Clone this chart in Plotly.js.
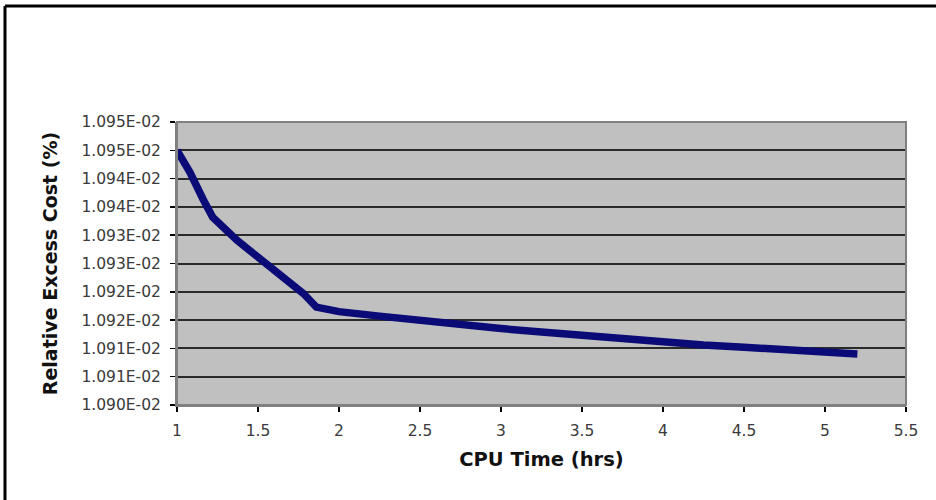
<!DOCTYPE html>
<html>
<head>
<meta charset="utf-8">
<script src="https://cdn.plot.ly/plotly-3.0.1.min.js"></script>
<style>html,body{margin:0;padding:0;background:#fff;}#chart{width:936px;height:500px;}</style>
</head>
<body>
<div id="chart"></div>
<script>
// CPU time (hrs)
var cpuTime = [1.00, 1.08, 1.16, 1.22, 1.37, 1.57, 1.78, 1.86,
               2.00, 2.25, 2.50, 2.75, 3.00, 3.25, 3.50, 3.75, 4.00, 4.25, 4.50, 4.75, 5.00, 5.20];
// Relative excess cost (%)
var excessCost = [1.09450e-2, 1.09411e-2, 1.09364e-2, 1.09332e-2, 1.09291e-2, 1.09244e-2,
                  1.09197e-2, 1.09173e-2, 1.09165e-2, 1.09157e-2, 1.09149e-2, 1.09142e-2,
                  1.09135e-2, 1.09129e-2, 1.09123e-2, 1.09117e-2, 1.09110e-2, 1.09106e-2,
                  1.09102e-2, 1.09098e-2, 1.09094e-2, 1.09090e-2];
// Y tick values and labels (as printed)
var yTickVals = [1.0900e-2, 1.0905e-2, 1.0910e-2, 1.0915e-2, 1.0920e-2, 1.0925e-2,
                 1.0930e-2, 1.0935e-2, 1.0940e-2, 1.0945e-2, 1.0950e-2];
var yTickText = ["1.090E-02", "1.091E-02", "1.091E-02", "1.092E-02", "1.092E-02", "1.093E-02",
                 "1.093E-02", "1.094E-02", "1.094E-02", "1.095E-02", "1.095E-02"];
var xTickVals = [1, 1.5, 2, 2.5, 3, 3.5, 4, 4.5, 5, 5.5];
var xTickText = ["1", "1.5", "2", "2.5", "3", "3.5", "4", "4.5", "5", "5.5"];

var trace = {
  x: cpuTime, y: excessCost, type: 'scatter', mode: 'lines',
  line: {color: '#0b0b78', width: 7.5},
  hoverinfo: 'skip'
};

var FONT = 'DejaVu Sans, Liberation Sans, Arial, sans-serif';
var L = 177, R = 30, T = 122, B = 95, W = 936, H = 500;
var pw = W - L - R, ph = H - T - B;

var layout = {
  width: W, height: H,
  margin: {l: L, r: R, t: T, b: B},
  paper_bgcolor: '#ffffff',
  plot_bgcolor: '#c0c0c0',
  showlegend: false,
  font: {family: FONT, color: '#333333', size: 15},
  xaxis: {
    range: [1, 5.5], tickvals: xTickVals, ticktext: xTickText,
    showgrid: false, zeroline: false,
    showline: true, linecolor: '#808080', linewidth: 2,
    ticks: 'outside', ticklen: 5, tickwidth: 1.5, tickcolor: '#000',
    ticklabelstandoff: 5,
    tickfont: {family: FONT, size: 15.5, color: '#3a3a3a'},
    title: {text: 'CPU Time (hrs)', font: {family: FONT, size: 19.5, color: '#111', weight: 'bold'}, standoff: 14}
  },
  yaxis: {
    range: [1.0900e-2, 1.0950e-2], tickvals: yTickVals, ticktext: yTickText,
    showgrid: true, gridcolor: '#2a2a2a', gridwidth: 2, zeroline: false,
    showline: true, linecolor: '#808080', linewidth: 2,
    ticks: 'outside', ticklen: 5, tickwidth: 1.5, tickcolor: '#000',
    ticklabelstandoff: 6,
    tickfont: {family: FONT, size: 15.5, color: '#3a3a3a'},
    title: {text: 'Relative Excess Cost (%)', font: {family: FONT, size: 19, color: '#111', weight: 'bold'}, standoff: 19}
  },
  shapes: [
    {type: 'rect', xref: 'paper', yref: 'paper', x0: 0, x1: 1, y0: 0, y1: 1,
     line: {color: '#808080', width: 2}, fillcolor: 'rgba(0,0,0,0)'},
    {type: 'line', xref: 'paper', yref: 'paper', x0: (5 - L) / pw, x1: (W - L) / pw,
     y0: (H - B - 6) / ph, y1: (H - B - 6) / ph, line: {color: '#000', width: 3}},
    {type: 'line', xref: 'paper', yref: 'paper', x0: (5 - L) / pw, x1: (5 - L) / pw,
     y0: (H - B - 6) / ph, y1: -B / ph, line: {color: '#000', width: 3}}
  ]
};

Plotly.newPlot('chart', [trace], layout, {displayModeBar: false, staticPlot: true});
</script>
</body>
</html>
